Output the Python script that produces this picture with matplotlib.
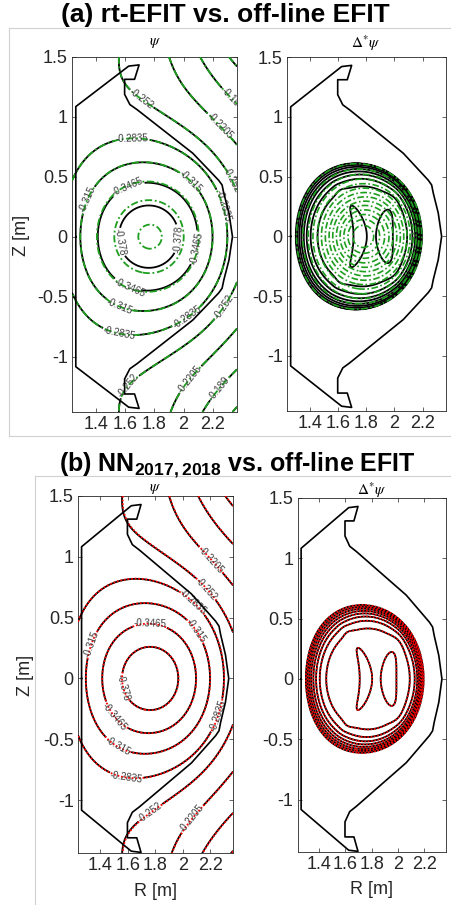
import numpy as np
import matplotlib
matplotlib.use('Agg')
import matplotlib.pyplot as plt
from matplotlib.lines import Line2D

plt.rcParams['font.family'] = ['Liberation Sans', 'DejaVu Sans']
plt.rcParams['mathtext.fontset'] = 'custom'
plt.rcParams['mathtext.rm'] = 'Liberation Sans'
plt.rcParams['mathtext.bf'] = 'Liberation Sans:bold'
plt.rcParams['contour.negative_linestyle'] = 'solid'

# flux contour levels (Wb/rad)
psi_levels = [-0.4095, -0.378, -0.3465, -0.315, -0.2835, -0.252, -0.2205, -0.189, -0.1575, -0.126]
# Delta* psi contour levels (normalised)
dstar_levels = [0.02, 0.15, 0.28, 0.41, 0.54, 0.67, 0.80, 0.93, 1.06, 1.19, 1.32, 1.45, 1.58, 1.71]

# equilibrium parameters
efit_axis = (1.78, -0.397)      # R_axis, psi_axis (off-line EFIT)
rt_axis = (1.78, -0.397)        # rt-EFIT
rt_core_dip = (0.0172, 0.0285)  # extra depth / width of rt-EFIT core
nn_axis = (1.781, -0.3972)      # NN reconstruction
psi_lcfs = -0.316

# KSTAR first wall, upper half
wall_r_up = [1.263, 1.263, 1.625, 1.696, 1.665, 1.597, 1.597, 1.633, 1.684, 2.063, 2.24, 2.264, 2.276, 2.311, 2.335]
wall_z_up = [0.0, 1.083, 1.42, 1.43, 1.31, 1.31, 1.185, 1.10, 1.056, 0.695, 0.47, 0.43, 0.36, 0.195, 0.0]
wall_r = np.array(wall_r_up + wall_r_up[::-1])
wall_z = np.array(wall_z_up + [-z for z in wall_z_up[::-1]])

# where the flux labels sit (R, Z)
labels_a = [(1.674, 1.08), (2.30, 0.45), (1.63, -1.25), (2.23, -0.55), (2.22, 0.89), (2.007, -1.15),
            (2.29, 1.10), (2.20, -1.22), (1.65, 0.80), (2.25, 0.25), (1.56, -0.82), (2.03, -0.68),
            (1.34, 0.31), (2.03, 0.44), (1.56, -0.59), (1.62, 0.41), (1.63, -0.43), (2.12, -0.1),
            (1.55, -0.05), (1.99, -0.02)]
labels_b = [(2.174, 0.94), (2.125, 0.69), (2.05, 0.60), (1.76, 0.43), (2.07, 0.37), (1.36, 0.27),
            (1.616, -0.06), (1.51, -0.31), (1.53, -0.55), (1.59, -0.82), (2.27, -0.31),
            (1.78, -1.13), (2.04, -1.13)]

r_grid = np.linspace(1.237, 2.366, 260)
z_grid = np.linspace(-1.46, 1.50, 360)
RR, ZZ = np.meshgrid(r_grid, z_grid)


def flux(axis, dip=(0.0, 1.0)):
    x = RR - axis[0]
    a = 0.47 + 0.10 * x + 0.5 * x**2
    u = a * x**2 + 0.30 * ZZ**2
    core = 0.16 * (1 - np.exp(-u / 0.16))
    g = -0.0013 + 0.017 * x + 0.00475 * np.log1p(np.exp(x / 0.1))
    return axis[1] + core + ZZ**2 * g + 0.012 * x - dip[0] * np.exp(-u / dip[1])


def norm_flux(psi):
    pmin = psi.min()
    return (psi - pmin) / (psi_lcfs - pmin)


def dstar_efit(psi):
    psin = norm_flux(psi)
    p = 3.5 + 2.0 * np.clip((RR - 1.29) / 0.94, 0, 1)
    edge = np.where(psin < 1, 1 - np.clip(psin, 0, 1)**p, 0.0)
    rl = 1.755 - 0.9 * ZZ**2
    rr = 1.93 + 0.6 * ZZ**2
    hump = 0.12 * (np.exp(-((RR - rl) / 0.055)**2 - (ZZ / 0.32)**2) +
                   np.exp(-((RR - rr) / 0.072)**2 - (ZZ / 0.30)**2))
    return edge * (1 + hump)


def dstar_rt(psi):
    psin = norm_flux(psi)
    q = 0.5 + 0.6 * np.clip((RR - 1.29) / 0.94, 0, 1)
    return np.where(psin < 1, 1.85 * (1 - np.clip(psin, 0, 1)**q), 0.0)


psi_efit = flux(efit_axis)
psi_rt = flux(rt_axis, rt_core_dip)
psi_nn = flux(nn_axis)

W, H = 451, 909
fig = plt.figure(figsize=(W / 100, H / 100), dpi=100)


def box(l, t, r, b):
    return [l / W, 1 - b / H, (r - l) / W, (b - t) / H]


green = '#1e9e1e'
dashdot = (0, (4, 1.5, 1, 1.5))
dotted = (0, (1, 1))


def style(ax, ylo):
    ax.set_xlim(1.237, 2.366)
    ax.set_ylim(ylo, 1.5)
    ax.set_xticks([1.4, 1.6, 1.8, 2.0, 2.2])
    ax.set_xticklabels(['1.4', '1.6', '1.8', '2', '2.2'])
    ax.set_yticks([-1, -0.5, 0, 0.5, 1, 1.5])
    ax.set_yticklabels(['-1', '-0.5', '0', '0.5', '1', '1.5'])
    ax.tick_params(direction='in', length=3, width=0.5, top=True, right=True,
                   labelsize=13, colors='#262626', pad=3)
    for s in ax.spines.values():
        s.set_linewidth(0.6)
        s.set_color('#262626')
    ax.plot(wall_r, wall_z, color='k', lw=1.2, zorder=5)


def psi_panel(ax, other, color, ls, ylo, spots):
    cs = ax.contour(RR, ZZ, psi_efit, levels=psi_levels, colors='k', linewidths=1.3, zorder=3)
    ax.clabel(cs, fmt=lambda v: f'{v:g}', fontsize=7, manual=spots,
              inline=True, inline_spacing=1, colors='#404040')
    co = ax.contour(RR, ZZ, other, levels=psi_levels, colors=color, linewidths=1.3, zorder=4)
    co.set_linestyle(ls)
    style(ax, ylo)


def dstar_panel(ax, other, color, ls, ylo):
    ax.contour(RR, ZZ, dstar_efit(psi_efit), levels=dstar_levels, colors='k', linewidths=1.3, zorder=3)
    co = ax.contour(RR, ZZ, other, levels=dstar_levels, colors=color, linewidths=1.2, zorder=4)
    co.set_linestyle(ls)
    style(ax, ylo)


# (a) rt-EFIT
ax1 = fig.add_axes(box(72, 56.5, 237, 412))
psi_panel(ax1, psi_rt, green, dashdot, -1.46, labels_a)
ax2 = fig.add_axes(box(287, 57, 446, 411))
dstar_panel(ax2, dstar_rt(psi_rt), green, dashdot, -1.46)

# (b) NN
ax3 = fig.add_axes(box(78, 496, 233, 853))
psi_panel(ax3, psi_nn, 'red', dotted, -1.435, labels_b)
ax4 = fig.add_axes(box(297.7, 498, 446, 852))
dstar_panel(ax4, dstar_efit(psi_nn), 'red', dotted, -1.435)

fig.text(225 / W, 1 - 22 / H, '(a) rt-EFIT vs. off-line EFIT', ha='center', va='baseline',
         fontsize=19, fontweight='bold')
fig.text(237 / W, 1 - 471 / H, r'(b) NN$_{\mathbf{2017,2018}}$ vs. off-line EFIT', ha='center',
         va='baseline', fontsize=18, fontweight='bold')

for x, y, s in [(155, 43, r'$\psi$'), (366, 43, r'$\Delta^{*}\psi$'),
                (155, 489, r'$\psi$'), (372, 490, r'$\Delta^{*}\psi$')]:
    fig.text(x / W, 1 - y / H, s, ha='center', va='center', fontsize=11, math_fontfamily='stix')

fig.text(21 / W, 1 - 235 / H, 'Z [m]', rotation=90, ha='center', va='center', fontsize=13, color='#262626')
fig.text(26 / W, 1 - 675 / H, 'Z [m]', rotation=90, ha='center', va='center', fontsize=13, color='#262626')
fig.text(156 / W, 1 - 892 / H, 'R [m]', ha='center', va='center', fontsize=13, color='#262626')
fig.text(372 / W, 1 - 890 / H, 'R [m]', ha='center', va='center', fontsize=13, color='#262626')

# thin frame lines around the two groups
frame = '#d0d0d0'
for xs, ys in [([9, 9], [28, 436]), ([9, 451], [28, 28]), ([9, 451], [436, 436]),
               ([35, 451], [476, 476]), ([35, 35], [476, 904])]:
    fig.add_artist(Line2D([v / W for v in xs], [1 - v / H for v in ys], color=frame, lw=0.8))

fig.savefig('out.png', dpi=100)
